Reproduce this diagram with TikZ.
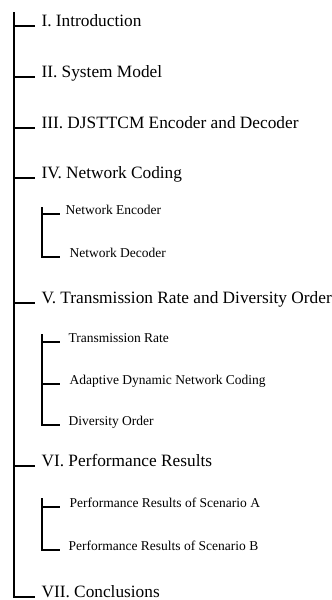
\documentclass[tikz,border=0pt]{standalone}
\usepackage{fontspec}
\setmainfont{Liberation Serif}
\begin{document}
\begin{tikzpicture}[x=1pt, y=1pt, line width=1.1pt,
    sec/.style={anchor=base west, inner sep=0pt, font=\fontsize{17.3}{19}\selectfont},
    subsec/.style={anchor=base west, inner sep=0pt, font=\fontsize{13.5}{15}\selectfont}]
	\useasboundingbox (0, 0) rectangle (332, -600);
	% main spine and the sub-brackets
	\coordinate (spine) at (14, -12);
	\coordinate (nc spine) at (42, -207);
	\coordinate (tr spine) at (42, -334);
	\coordinate (pr spine) at (42, -498);
	% sections
	\node[sec] (intro) at (41, -26) {I. Introduction};
	\node[sec] (model) at (41, -77) {II. System Model};
	\node[sec] (codec) at (41, -128) {III. DJSTTCM Encoder and Decoder};
	\node[sec] (netcod) at (41, -178) {IV. Network Coding};
	\node[subsec] (netenc) at (65, -214) {Network Encoder};
	\node[subsec] (netdec) at (69, -257) {Network Decoder};
	\node[sec] (rate) at (41, -303) {V. Transmission Rate and Diversity Order};
	\node[subsec] (txrate) at (68, -342) {Transmission Rate};
	\node[subsec] (adnc) at (69, -384) {Adaptive Dynamic Network Coding};
	\node[subsec] (divord) at (68, -425) {Diversity Order};
	\node[sec] (perf) at (41, -466) {VI. Performance Results};
	\node[subsec] (perfa) at (69, -507) {Performance Results of Scenario A};
	\node[subsec] (perfb) at (68, -550) {Performance Results of Scenario B};
	\node[sec] (concl) at (41, -597) {VII. Conclusions};
	% spine with its ticks
	\draw (spine) -- (spine |- concl.base west) -- ([xshift=-6pt]concl.base west);
	\draw (spine |- intro.base west) -- ([xshift=-6pt]intro.base west);
	\draw (spine |- model.base west) -- ([xshift=-6pt]model.base west);
	\draw (spine |- codec.base west) -- ([xshift=-6pt]codec.base west);
	\draw (spine |- netcod.base west) -- ([xshift=-6pt]netcod.base west);
	\draw (spine |- rate.base west) -- ([xshift=-6pt]rate.base west);
	\draw (spine |- perf.base west) -- ([xshift=-6pt]perf.base west);
	% sub-brackets
	\draw (nc spine) -- (nc spine |- netdec.base west) -- (60, 0 |- netdec.base west);
	\draw (nc spine |- netenc.base west) -- ([xshift=-5pt]netenc.base west);
	\draw (tr spine) -- (tr spine |- divord.base west) -- (60, 0 |- divord.base west);
	\draw (tr spine |- txrate.base west) -- (60, 0 |- txrate.base west);
	\draw (tr spine |- adnc.base west) -- (60, 0 |- adnc.base west);
	\draw (pr spine) -- (pr spine |- perfb.base west) -- (60, 0 |- perfb.base west);
	\draw (pr spine |- perfa.base west) -- (60, 0 |- perfa.base west);
\end{tikzpicture}
\end{document}
